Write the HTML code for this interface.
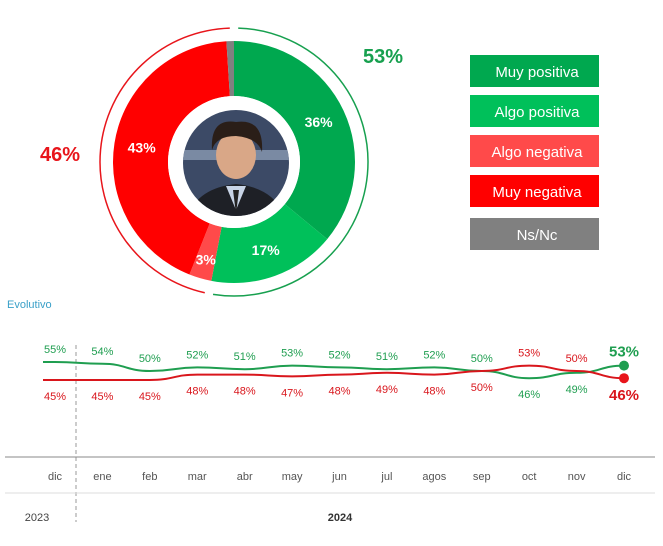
<!DOCTYPE html>
<html><head><meta charset="utf-8">
<style>
body{margin:0;background:#fff;font-family:"Liberation Sans",sans-serif;}
svg text{font-family:"Liberation Sans",sans-serif;}
</style></head>
<body>
<svg width="663" height="541" viewBox="0 0 663 541" id="chart">
<rect width="663" height="541" fill="#fff"/>
<g id="donut"></g>
<g id="photo">
  <clipPath id="pc"><circle cx="236" cy="163" r="53"/></clipPath>
  <g clip-path="url(#pc)">
    <rect x="180" y="108" width="112" height="112" fill="#3c4a66"/>
    <rect x="180" y="150" width="112" height="10" fill="#7a8aa3"/>
    <path d="M186 220 Q196 188 236 184 Q276 188 286 220 Z" fill="#1e2026"/>
    <path d="M226 186 L236 210 L246 186 Z" fill="#c8d4e6"/>
    <path d="M233 190 L236 214 L239 190 Z" fill="#222"/>
    <ellipse cx="236" cy="155" rx="20" ry="24" fill="#d9a787"/>
    <path d="M212 150 Q210 118 236 122 Q264 118 262 152 Q258 138 236 136 Q216 136 212 150 Z" fill="#2a1e18"/>
  </g>
</g>
<text x="383" y="63" font-size="20" font-weight="bold" fill="#17a04f" text-anchor="middle">53%</text>
<text x="60" y="161" font-size="20" font-weight="bold" fill="#e8151b" text-anchor="middle">46%</text>
<g id="legend"></g>
<text x="7" y="308" font-size="11" fill="#3aa0c8">Evolutivo</text>
<line x1="76" y1="345" x2="76" y2="522" stroke="#999" stroke-dasharray="4,3"/>
<line x1="5" y1="457" x2="655" y2="457" stroke="#888"/>
<line x1="5" y1="493" x2="655" y2="493" stroke="#ddd"/>
<text x="37" y="521" font-size="11" fill="#444" text-anchor="middle">2023</text>
<text x="340" y="521" font-size="11" font-weight="bold" fill="#333" text-anchor="middle">2024</text>
<g id="line"></g>
</svg>
<script>
const donutLabels=["Muy positiva","Algo positiva","Algo negativa","Muy negativa","Ns/Nc"];
const donutValues=[36,17,3,43,1];
const donutColors=["#00a84f","#00c05a","#ff4a4a","#ff0000","#808080"];
const months=["dic","ene","feb","mar","abr","may","jun","jul","agos","sep","oct","nov","dic"];
const positive=[55,54,50,52,51,53,52,51,52,50,46,49,53];
const negative=[45,45,45,48,48,47,48,49,48,50,53,50,46];
const NS="http://www.w3.org/2000/svg";
function mk(t,a,p){const e=document.createElementNS(NS,t);for(const k in a)e.setAttribute(k,a[k]);p.appendChild(e);return e;}
// donut
const dg=document.getElementById('donut');
const cx=234,cy=162,R=121,r=66;
const tot=donutValues.reduce((a,b)=>a+b,0);
function pt(rad,f){const a=f*2*Math.PI-Math.PI/2;return [cx+rad*Math.cos(a),cy+rad*Math.sin(a)];}
let acc=0;
donutValues.forEach((v,i)=>{
  const f0=acc/tot,f1=(acc+v)/tot;acc+=v;
  const [x0,y0]=pt(R,f0),[x1,y1]=pt(R,f1),[x2,y2]=pt(r,f1),[x3,y3]=pt(r,f0);
  const lg=(f1-f0)>0.5?1:0;
  const p=mk('path',{d:`M${x0},${y0}A${R},${R} 0 ${lg} 1 ${x1},${y1}L${x2},${y2}A${r},${r} 0 ${lg} 0 ${x3},${y3}Z`,fill:donutColors[i]},dg);
  
  
  if(v>=3){
    const [lx,ly]=pt((R+r)/2+ (v<5?8:0),(f0+f1)/2);
    const t=mk('text',{x:lx,y:ly+5,'font-size':14,'font-weight':'bold',fill:'#fff','text-anchor':'middle'},dg);
    t.textContent=v+'%';
    
    
  }
});
// outer rings
const posF=(donutValues[0]+donutValues[1])/tot;
const Ro=134;
function arcPath(f0,f1,rad){const a0=f0*2*Math.PI-Math.PI/2,a1=f1*2*Math.PI-Math.PI/2;return `M${cx+rad*Math.cos(a0)},${cy+rad*Math.sin(a0)}A${rad},${rad} 0 ${(f1-f0)>0.5?1:0} 1 ${cx+rad*Math.cos(a1)},${cy+rad*Math.sin(a1)}`;}
const ga=mk('path',{d:arcPath(0.005,posF-0.005,Ro),fill:'none',stroke:'#17a04f','stroke-width':1.5},dg);


const ra=mk('path',{d:arcPath(posF+0.005,0.995,Ro),fill:'none',stroke:'#e8151b','stroke-width':1.5},dg);


mk('circle',{cx:cx,cy:cy,r:r,fill:'#fff'},dg);
// legend
const lgG=document.getElementById('legend');
const legY=[55,95,135,175,218];
donutLabels.forEach((l,i)=>{
  const g=mk('g',{},lgG);
  
  
  mk('rect',{x:470,y:legY[i],width:129,height:32,fill:donutColors[i]},g);
  const t=mk('text',{x:537,y:legY[i]+22,'font-size':15,fill:'#fff','text-anchor':'middle'},g);
  t.textContent=l;
});
// line chart
const lg=document.getElementById('line');
const x0=55,dx=(624-55)/12;
const X=i=>i===0?55:x0+i*dx;
const Y=v=>362+(55-v)*1.8;
function smooth(vals){
  const P=vals.map((v,i)=>[X(i),Y(v)]);
  let d=`M${P[0][0]-12},${P[0][1]}L${P[0][0]},${P[0][1]}`;
  for(let i=0;i<P.length-1;i++){const mx=(P[i][0]+P[i+1][0])/2;d+=`C${mx},${P[i][1]} ${mx},${P[i+1][1]} ${P[i+1][0]},${P[i+1][1]}`;}
  return d;
}
const gp=mk('path',{d:smooth(positive),fill:'none',stroke:'#1f9e50','stroke-width':2},lg);


const rp=mk('path',{d:smooth(negative),fill:'none',stroke:'#d9161c','stroke-width':2},lg);


const n=months.length-1;
const gd=mk('circle',{cx:X(n),cy:Y(positive[n]),r:5,fill:'#1f9e50'},lg);


const rd=mk('circle',{cx:X(n),cy:Y(negative[n]),r:5,fill:'#e8151b'},lg);


months.forEach((m,i)=>{
  const x=X(i);
  const last=i===n;
  const pAbove=positive[i]>=negative[i];
  const top=pAbove?positive[i]:negative[i], bot=pAbove?negative[i]:positive[i];
  const tc=pAbove?'#1f9e50':'#d9161c', bc=pAbove?'#d9161c':'#1f9e50';
  const tt=mk('text',{x:x,y:Y(top)-9,'font-size':last?15:11,'font-weight':last?'bold':'normal',fill:tc,'text-anchor':'middle'},lg);
  tt.textContent=top+'%';
  
  
  const bt=mk('text',{x:x,y:Y(bot)+(last?22:20),'font-size':last?15:11,'font-weight':last?'bold':'normal',fill:bc,'text-anchor':'middle'},lg);
  bt.textContent=bot+'%';
  
  
  const mt=mk('text',{x:x,y:480,'font-size':11,fill:'#555','text-anchor':'middle'},lg);
  mt.textContent=m;
  
  
});
</script>
</body></html>
